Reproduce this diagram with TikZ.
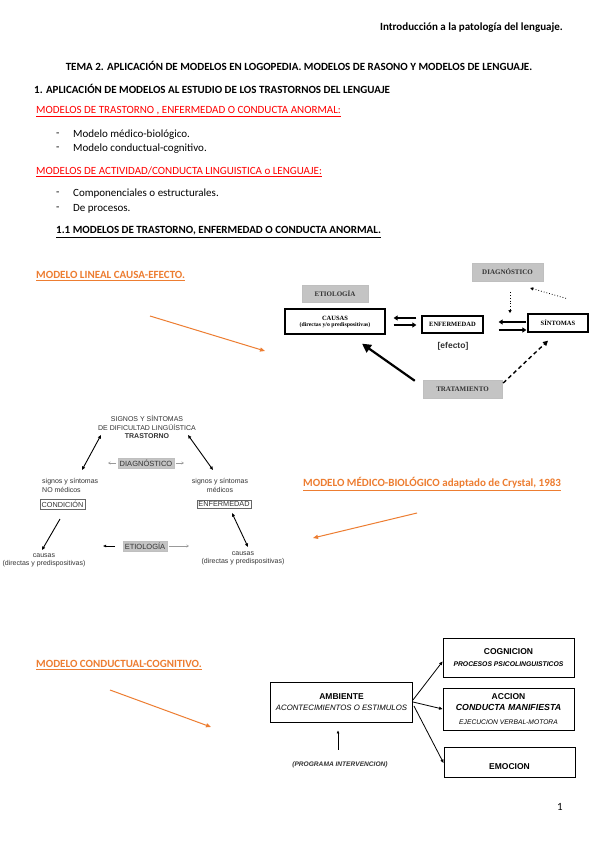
\documentclass[tikz,border=0pt]{standalone}
\usepackage{fontspec}
\setmainfont{Carlito}
\newfontfamily\arialf{Liberation Sans}
\newfontfamily\tnrf{Liberation Serif}
\usetikzlibrary{arrows.meta,calc}
\definecolor{hred}{HTML}{FF0000}
\definecolor{horange}{HTML}{ED7D31}
\definecolor{boxgray}{HTML}{C4C4C4}
\definecolor{txtgray}{HTML}{333333}
\begin{document}
\begin{tikzpicture}[x=1pt,y=-1pt,
  body/.style={inner sep=0pt,anchor=west,font=\fontsize{11}{12}\selectfont},
  bodyb/.style={body,font=\bfseries\fontsize{11}{12}\selectfont},
  redh/.style={body,text=hred},
  orh/.style={body,text=horange,font=\bfseries\fontsize{11}{12}\selectfont},
  orarrow/.style={draw=horange,line width=1pt,-{Triangle[length=5pt,width=4pt]}},
  gbox/.style={fill=boxgray,draw=black!25,inner sep=0pt,text=txtgray,font=\tnrf\bfseries\fontsize{7}{8}\selectfont},
  tbox/.style={draw=black,line width=1.3pt,fill=white,inner sep=0pt,font=\tnrf\bfseries\fontsize{6.5}{7}\selectfont,align=center},
  pairarrow/.style={line width=1.5pt,-{Triangle[length=4pt,width=5pt]}},
  mtxt/.style={inner sep=0pt,align=center,text=txtgray,font=\arialf\fontsize{7}{8.8}\selectfont},
  ctxt/.style={mtxt,font=\arialf\fontsize{7}{7.8}\selectfont},
  mgbox/.style={fill=boxgray,draw=black!25,inner sep=1.5pt,text=txtgray,font=\arialf\fontsize{7.5}{8}\selectfont},
  mwbox/.style={fill=white,draw=black!60,inner sep=1.5pt,text=txtgray,font=\arialf\fontsize{7.3}{8}\selectfont},
  marrow/.style={line width=0.9pt,-{Triangle[length=3.5pt,width=3pt]}},
  dmarrow/.style={line width=0.9pt,{Triangle[length=3.5pt,width=3pt]}-{Triangle[length=3.5pt,width=3pt]}},
  sarrow/.style={draw=black!40,line width=0.5pt,-{Straight Barb[length=2pt,width=2.5pt]}},
  cbox/.style={draw=black,line width=0.9pt,fill=white,inner sep=0pt,align=center,font=\arialf\bfseries\fontsize{8.5}{10}\selectfont},
  carrow/.style={line width=0.8pt,-{Triangle[length=3.5pt,width=3pt]}}
]
\useasboundingbox[fill=white] (0,0) rectangle (599,848);

% ---------- header text ----------
\node[bodyb,anchor=east] (hdr) at (563,28) {Introducción a la patología del lenguaje.};
\node[bodyb,anchor=center] (title) at (299,66) {TEMA 2. APLICACIÓN DE MODELOS EN LOGOPEDIA. MODELOS DE RASONO Y MODELOS DE LENGUAJE.};
\node[bodyb] (sec1) at (34,89) {1. APLICACIÓN DE MODELOS AL ESTUDIO DE LOS TRASTORNOS DEL LENGUAJE};
\node[redh] (red1) at (36,112) {\underline{MODELOS DE TRASTORNO , ENFERMEDAD O CONDUCTA ANORMAL:}};
\node[body] (d1) at (56,135) {-};
\node[body] (b1) at (73,135) {Modelo médico-biológico.};
\node[body] (d2) at (56,149) {-};
\node[body] (b2) at (73,149) {Modelo conductual-cognitivo.};
\node[redh] (red2) at (36,172) {\underline{MODELOS DE ACTIVIDAD/CONDUCTA LINGUISTICA o LENGUAJE:}};
\node[body] (d3) at (56,194) {-};
\node[body] (b3) at (73,194) {Componenciales o estructurales.};
\node[body] (d4) at (56,209) {-};
\node[body] (b4) at (73,209) {De procesos.};
\node[bodyb] (sec11) at (56,232) {\underline{1.1 MODELOS DE TRASTORNO, ENFERMEDAD O CONDUCTA ANORMAL.}};

% ---------- modelo lineal ----------
\node[orh] (or1) at (36,276) {\underline{MODELO LINEAL CAUSA-EFECTO.}};
\coordinate (o1a) at (150,316);
\coordinate (o1b) at (265,351);
\draw[orarrow] (o1a) -- (o1b);

\node[gbox,minimum width=66,minimum height=17] (etio1) at (335,293.5) {ETIOLOGÍA};
\node[tbox,minimum width=100,minimum height=25] (causas) at (335,321.5) {CAUSAS\\[-1pt]{\fontsize{5.8}{6}\selectfont (directas y/o predispositivas)}};
\node[tbox,minimum width=61,minimum height=17] (enf1) at (452.5,324.5) {ENFERMEDAD};
\node[tbox,minimum width=60,minimum height=18] (sint) at (558,323) {SÍNTOMAS};
\node[inner sep=0pt,font=\arialf\bfseries\fontsize{8.5}{9}\selectfont,text=txtgray] (efecto) at (453,346) {[efecto]};
\node[gbox,minimum width=71,minimum height=18] (diag1) at (507.5,272) {DIAGNÓSTICO};
\node[gbox,minimum width=79,minimum height=18] (trat) at (462.5,389) {TRATAMIENTO};

\draw[pairarrow] ($(enf1.west)+(-5,-6.5)$) -- ($(causas.east)+(8,-3.5)$);
\draw[pairarrow] ($(causas.east)+(8,3.5)$) -- ($(enf1.west)+(-5,0.5)$);
\draw[pairarrow] ($(sint.west)+(-1,-1)$) -- ($(enf1.east)+(15,-2.5)$);
\draw[pairarrow] ($(enf1.east)+(15,5.5)$) -- ($(sint.west)+(-1,7)$);
\draw[line width=0.8pt,dotted,-{Triangle[length=3pt,width=3pt]}] ($(diag1.south)+(2.5,11)$) -- ($(diag1.south)+(2.5,32)$);
\draw[line width=0.8pt,dotted,-{Triangle[length=3pt,width=3pt]}] ($(sint.north)+(8,-15)$) -- ($(diag1.east)+(-13,16)$);
\draw[line width=2.2pt,-{Triangle[length=9pt,width=9pt]}] ($(trat.north west)+(-8,1)$) -- ($(causas.south)+(27,9)$);
\draw[line width=1.4pt,dashed,dash pattern=on 4pt off 3pt,-{Triangle[length=5pt,width=5pt]}] ($(trat.east)+(1,-6)$) -- ($(sint.south)+(-10,8)$);

% ---------- modelo medico-biologico ----------
\node[mtxt] (trast) at (147,427) {SIGNOS Y SÍNTOMAS\\DE DIFICULTAD LINGÜÍSTICA\\{\bfseries TRASTORNO}};
\node[mgbox] (diag2) at (146,463) {DIAGNÓSTICO};
\node[mtxt,align=left,anchor=north west] (snm) at (42,478) {signos y síntomas\\NO médicos};
\node[mwbox] (cond) at (62.5,504) {CONDICIÓN};
\node[mtxt,anchor=north] (sm) at (220,478) {signos y síntomas\\médicos};
\node[mwbox] (enf2) at (224,504) {ENFERMEDAD};
\node[mgbox] (etio2) at (145,546) {ETIOLOGÍA};
\node[ctxt,anchor=north] (causl) at (44,554) {causas\\(directas y predispositivas)};
\node[ctxt,anchor=north] (causr) at (243,552) {causas\\(directas y predispositivas)};

\coordinate (tl1) at (101,435);
\coordinate (tl2) at (82,470);
\coordinate (tr1) at (188,435);
\coordinate (tr2) at (213,470);
\coordinate (bl1) at (60,519);
\coordinate (bl2) at (42,550);
\coordinate (br1) at (232,513);
\coordinate (br2) at (248,547);
\draw[dmarrow] (tl1) -- (tl2);
\draw[dmarrow] (tr1) -- (tr2);
\draw[marrow] (bl1) -- (bl2);
\draw[dmarrow] (br1) -- (br2);
\draw[sarrow] ($(diag2.west)+(-2,0)$) -- ($(diag2.west)+(-10,0)$);
\draw[sarrow] ($(diag2.east)+(2,0)$) -- ($(diag2.east)+(10,0)$);
\draw[line width=0.8pt,-{Triangle[length=3pt,width=2.5pt]}] ($(etio2.west)+(-8,0)$) -- ($(etio2.west)+(-20,0)$);
\draw[sarrow] ($(etio2.east)+(2,0)$) -- ($(etio2.east)+(22,0)$);

\node[orh] (or2) at (303,484) {\underline{MODELO MÉDICO-BIOLÓGICO adaptado de Crystal, 1983}};
\coordinate (o2a) at (417,513);
\coordinate (o2b) at (313,538);
\draw[orarrow] (o2a) -- (o2b);

% ---------- modelo conductual-cognitivo ----------
\node[orh] (or3) at (36,665) {\underline{MODELO CONDUCTUAL-COGNITIVO.}};
\coordinate (o3a) at (110,690);
\coordinate (o3b) at (211,727);
\draw[orarrow] (o3a) -- (o3b);

\node[cbox,minimum width=142,minimum height=40] (amb) at (341.5,702) {AMBIENTE\\[1pt]{\mdseries\itshape\fontsize{7.8}{9}\selectfont ACONTECIMIENTOS O ESTIMULOS}};
\node[cbox,minimum width=131,minimum height=39] (cog) at (508.5,657.5) {COGNICION\\[2pt]{\itshape\fontsize{6.8}{7}\selectfont PROCESOS PSICOLINGUISTICOS}};
\node[cbox,minimum width=131,minimum height=42] (acc) at (508.5,709) {ACCION\\[1.5pt]{\itshape\fontsize{8.8}{10}\selectfont CONDUCTA MANIFIESTA}\\[4pt]{\mdseries\itshape\fontsize{6.7}{7}\selectfont EJECUCION VERBAL-MOTORA}};
\node[cbox,minimum width=131,minimum height=30,text height=16] (emo) at (509.5,762) {EMOCION};
\node[inner sep=0pt,font=\arialf\bfseries\itshape\fontsize{6.6}{7}\selectfont,text=txtgray] (prog) at (340,765) {(PROGRAMA INTERVENCION)};

\draw[carrow] ($(amb.east)+(0,-2)$) -- ($(cog.west)+(0,4)$);
\draw[carrow] (amb.east) -- (acc.west);
\draw[carrow] ($(amb.east)+(1,4)$) -- ($(emo.west)+(0,1)$);
\draw[line width=0.6pt,-{Triangle[length=3pt,width=2.5pt]}] ($(prog.north)+(-2,-12)$) -- ($(amb.south)+(-3.5,8)$);

\node[body] (pg) at (557,807) {1};
\end{tikzpicture}
\end{document}
